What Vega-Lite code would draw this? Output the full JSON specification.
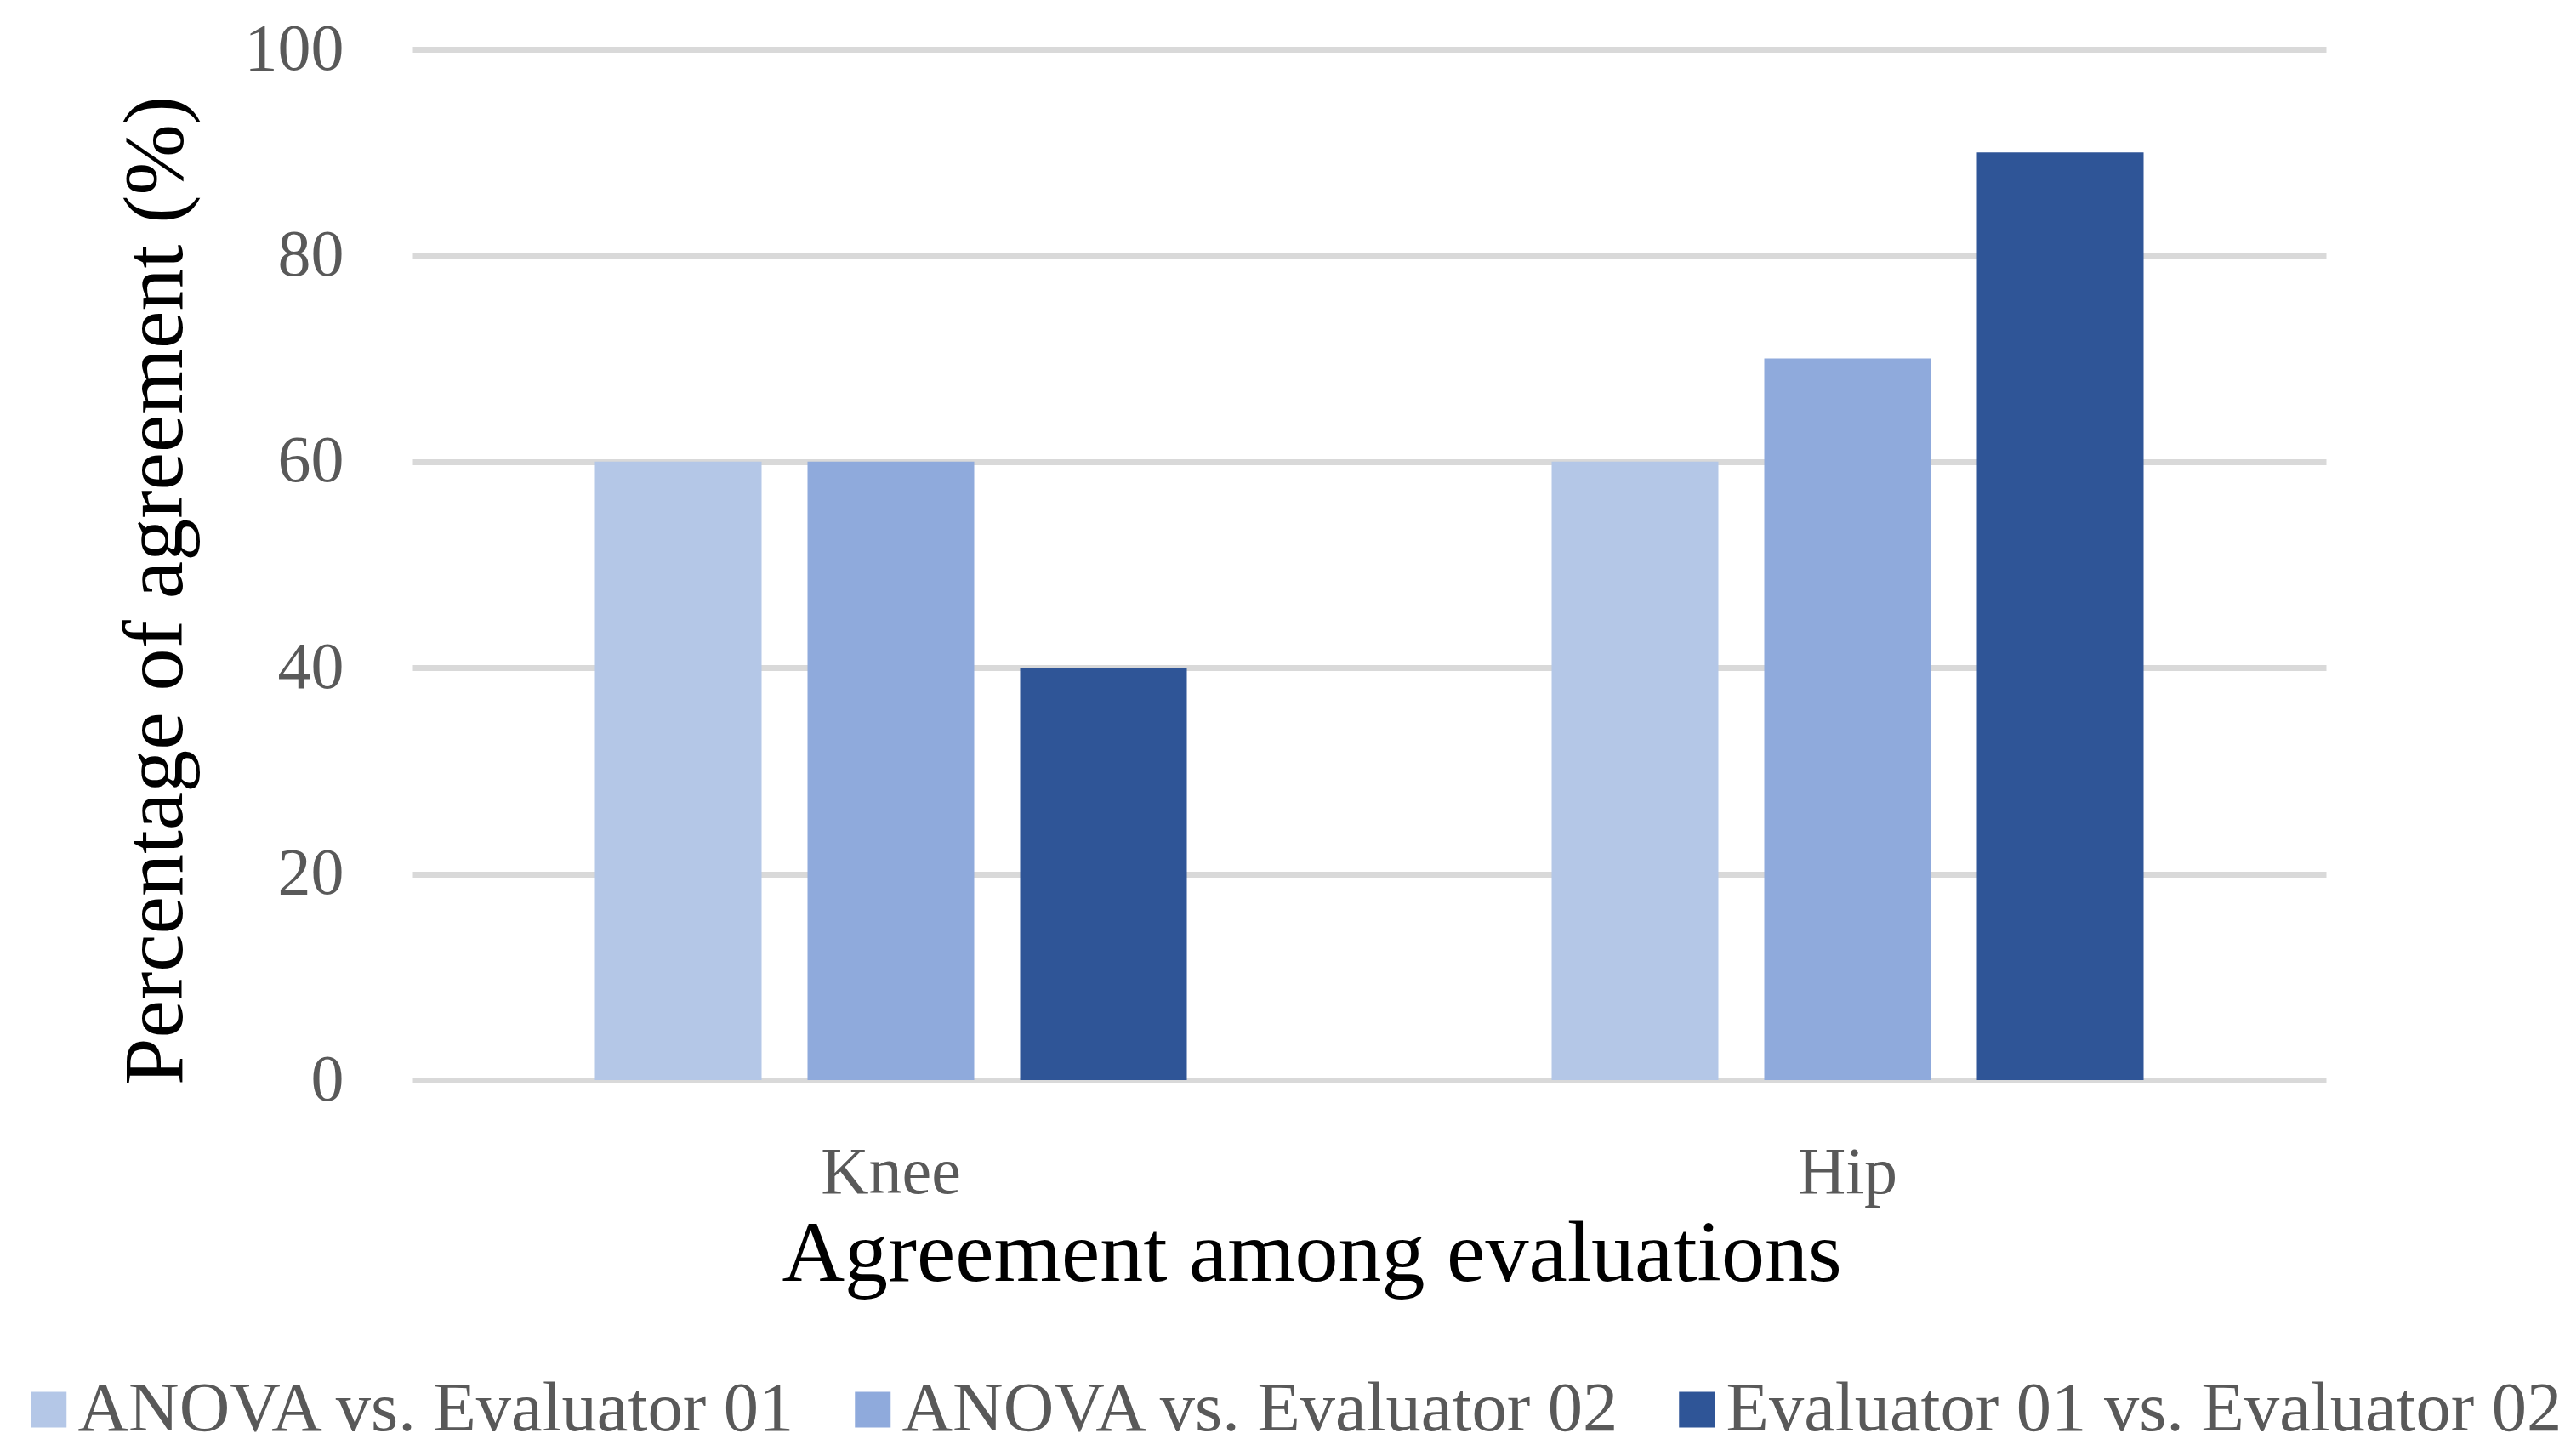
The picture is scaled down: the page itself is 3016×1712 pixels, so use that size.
{
  "$schema": "https://vega.github.io/schema/vega-lite/v6.json",
  "width": 2250,
  "height": 1212,
  "autosize": {"type": "none"},
  "padding": {"left": 485, "top": 58, "right": 281, "bottom": 442},
  "background": "white",
  "config": {"view": {"stroke": null}, "font": "Liberation Serif"},
  "data": {
    "values": [
      {"joint": "Knee", "comparison": "ANOVA vs. Evaluator 01", "pct": 60},
      {"joint": "Knee", "comparison": "ANOVA vs. Evaluator 02", "pct": 60},
      {"joint": "Knee", "comparison": "Evaluator 01 vs. Evaluator 02", "pct": 40},
      {"joint": "Hip", "comparison": "ANOVA vs. Evaluator 01", "pct": 60},
      {"joint": "Hip", "comparison": "ANOVA vs. Evaluator 02", "pct": 70},
      {"joint": "Hip", "comparison": "Evaluator 01 vs. Evaluator 02", "pct": 90}
    ]
  },
  "mark": {"type": "bar"},
  "encoding": {
    "x": {
      "field": "joint",
      "type": "nominal",
      "sort": ["Knee", "Hip"],
      "scale": {"paddingInner": 0, "paddingOuter": 0},
      "axis": {
        "title": "Agreement among evaluations",
        "domain": false,
        "ticks": false,
        "labelAngle": 0,
        "labelFontSize": 78,
        "labelColor": "#595959",
        "labelPadding": 70,
        "titleFontSize": 102,
        "titleFontWeight": "normal",
        "titleColor": "#000000",
        "titleX": 1057,
        "titleY": 235,
        "titleBaseline": "alphabetic",
        "titleAlign": "center"
      }
    },
    "xOffset": {
      "field": "comparison",
      "type": "nominal",
      "sort": ["ANOVA vs. Evaluator 01", "ANOVA vs. Evaluator 02", "Evaluator 01 vs. Evaluator 02"],
      "scale": {"paddingInner": 0.216, "paddingOuter": 0.858}
    },
    "y": {
      "field": "pct",
      "type": "quantitative",
      "scale": {"domain": [0, 100], "nice": false},
      "axis": {
        "title": "Percentage of agreement (%)",
        "values": [0, 20, 40, 60, 80, 100],
        "domain": false,
        "ticks": false,
        "grid": true,
        "gridColor": "#D9D9D9",
        "gridWidth": 7,
        "labelFontSize": 78,
        "labelColor": "#595959",
        "labelPadding": 81,
        "titleFontSize": 100,
        "titleFontWeight": "normal",
        "titleColor": "#000000",
        "titleX": -272,
        "titleY": 636,
        "titleBaseline": "alphabetic",
        "titleAlign": "center",
        "titleAngle": -90
      }
    },
    "color": {
      "field": "comparison",
      "type": "nominal",
      "sort": ["ANOVA vs. Evaluator 01", "ANOVA vs. Evaluator 02", "Evaluator 01 vs. Evaluator 02"],
      "scale": {
        "domain": ["ANOVA vs. Evaluator 01", "ANOVA vs. Evaluator 02", "Evaluator 01 vs. Evaluator 02"],
        "range": ["#B4C7E7", "#8FAADC", "#2F5597"]
      },
      "legend": {
        "title": null,
        "orient": "none",
        "direction": "horizontal",
        "legendX": -469,
        "legendY": 1558,
        "symbolType": "square",
        "symbolSize": 1764,
        "symbolStrokeWidth": 0,
        "labelFontSize": 82.5,
        "labelColor": "#595959",
        "labelOffset": -7,
        "columnPadding": 47,
        "labelLimit": 2000
      }
    }
  }
}
